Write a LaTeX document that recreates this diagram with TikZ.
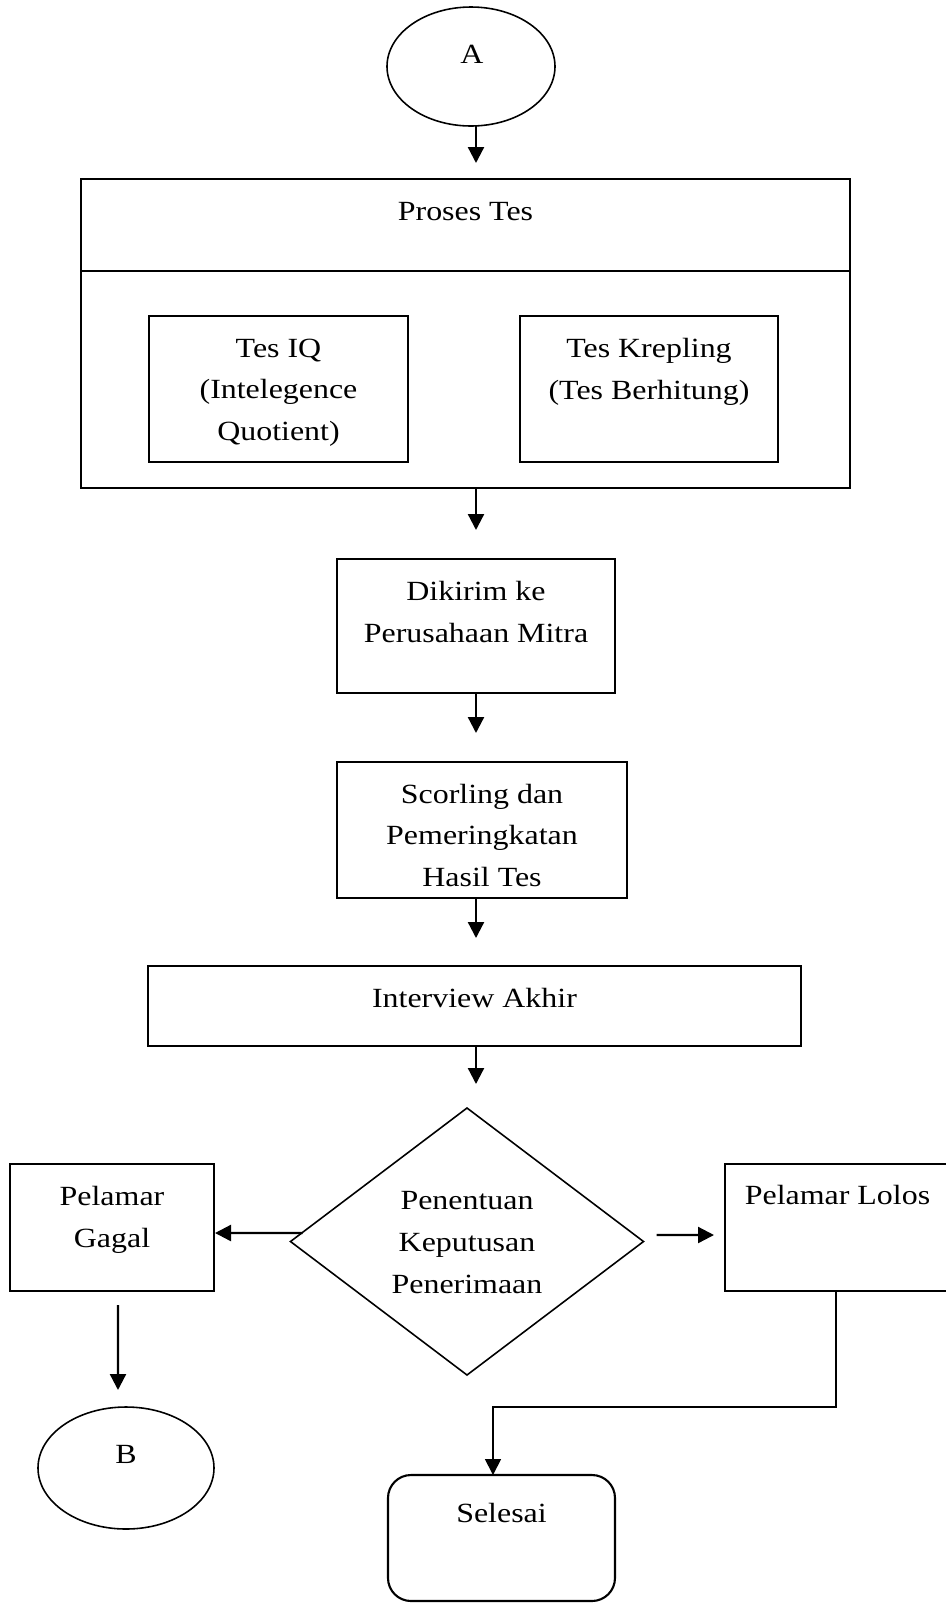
\documentclass[tikz,border=0pt]{standalone}
\usepackage{fontspec}
\setmainfont{Liberation Serif}[FakeStretch=1.15]
\usetikzlibrary{shapes.geometric,arrows.meta}
\tikzstyle{kotak} = [rectangle, draw=black, line width=1.2pt, inner sep=0pt, outer sep=0pt]
\tikzstyle{bulat} = [ellipse, draw=black, line width=0.9pt, inner sep=0pt, outer sep=0pt]
\tikzstyle{belah} = [diamond, draw=black, line width=0.9pt, inner sep=0pt, outer sep=0pt]
\tikzstyle{teks} = [anchor=base, align=center, inner sep=0pt]
\tikzstyle{panah} = [-{Triangle[width=0.32cm,length=0.32cm]}, line width=1.3pt]

\begin{document}
\begin{tikzpicture}[font=\fontsize{15.8}{23.7}\selectfont]
    \useasboundingbox (0,0) rectangle (18.9,-32.06);

    \node [bulat, minimum width=3.36cm, minimum height=2.38cm] (A) at (9.42,-1.33) {};
    \node [teks] (tA) at (9.44,-1.26) {A};

    \node [kotak, anchor=north, minimum width=15.38cm, minimum height=6.18cm] (proses) at (9.31,-3.58) {};
    \draw [line width=1.2pt] ([yshift=-1.84cm]proses.north west) -- ([yshift=-1.84cm]proses.north east);
    \node [teks] (tProses) at ([yshift=-0.82cm]proses.north) {Proses Tes};

    \node [kotak, anchor=north, minimum width=5.18cm, minimum height=2.92cm] (iq) at (5.57,-6.32) {};
    \node [teks] (tIq) at ([yshift=-2.49cm]iq.north) {Tes IQ\\(Intelegence\\Quotient)};
    \node [kotak, anchor=north, minimum width=5.16cm, minimum height=2.92cm] (krepling) at (12.98,-6.32) {};
    \node [teks] (tKrepling) at ([yshift=-1.66cm]krepling.north) {Tes Krepling\\(Tes Berhitung)};

    \node [kotak, anchor=north, minimum width=5.56cm, minimum height=2.68cm] (kirim) at (9.52,-11.18) {};
    \node [teks] (tKirim) at ([yshift=-1.66cm]kirim.north) {Dikirim ke\\Perusahaan Mitra};

    \node [kotak, anchor=north, minimum width=5.80cm, minimum height=2.72cm] (scoring) at (9.64,-15.24) {};
    \node [teks] (tScoring) at ([yshift=-2.49cm]scoring.north) {Scorling dan\\Pemeringkatan\\Hasil Tes};

    \node [kotak, anchor=north, minimum width=13.06cm, minimum height=1.60cm] (interview) at (9.49,-19.32) {};
    \node [teks] (tInterview) at ([yshift=-0.82cm]interview.north) {Interview Akhir};

    \node [belah, minimum width=7.06cm, minimum height=5.34cm] (keputusan) at (9.34,-24.83) {};
    \node [teks] (tKeputusan) at ([yshift=-1.03cm]keputusan.center) {Penentuan\\Keputusan\\Penerimaan};

    \node [kotak, anchor=north, minimum width=4.08cm, minimum height=2.54cm] (gagal) at (2.24,-23.28) {};
    \node [teks] (tGagal) at ([yshift=-1.66cm]gagal.north) {Pelamar\\Gagal};

    \node [kotak, anchor=north, minimum width=4.50cm, minimum height=2.54cm] (lolos) at (16.75,-23.28) {};
    \node [teks] (tLolos) at ([yshift=-0.80cm]lolos.north) {Pelamar Lolos};

    \node [bulat, minimum width=3.52cm, minimum height=2.44cm] (B) at (2.52,-29.36) {};
    \node [teks] (tB) at (2.52,-29.26) {B};

    \node [kotak, rounded corners=0.46cm, anchor=north, minimum width=4.54cm, minimum height=2.52cm] (selesai) at (10.03,-29.50) {};
    \node [teks] (tSelesai) at ([yshift=-0.94cm]selesai.north) {Selesai};

    \draw [panah, shorten >=0.32cm] (A.south -| kirim) -- (proses.north -| kirim);
    \draw [panah, shorten >=0.58cm] (proses.south -| kirim) -- (kirim.north);
    \draw [panah, shorten >=0.58cm] (kirim.south) -- (scoring.north -| kirim);
    \draw [panah, shorten >=0.56cm] (scoring.south -| kirim) -- (interview.north -| kirim);
    \draw [panah, shorten >=0.48cm] (interview.south -| kirim) -- (keputusan.north -| kirim);

    \draw [panah] ([shift={(0.24,0.17)}]keputusan.west) -- ([shift={(0.02,-0.11)}]gagal.east);
    \draw [panah] ([shift={(0.26,0.13)}]keputusan.east) -- ([shift={(-0.22,-0.15)}]lolos.west);
    \draw [panah, shorten <=0.28cm, shorten >=0.34cm] ([xshift=0.12cm]gagal.south) -- ([xshift=-0.16cm]B.north);
    \draw [panah, line width=1pt] ([xshift=-0.03cm]lolos.south) -- ++(0,-2.32) -| ([xshift=-0.17cm]selesai.north);
\end{tikzpicture}
\end{document}
